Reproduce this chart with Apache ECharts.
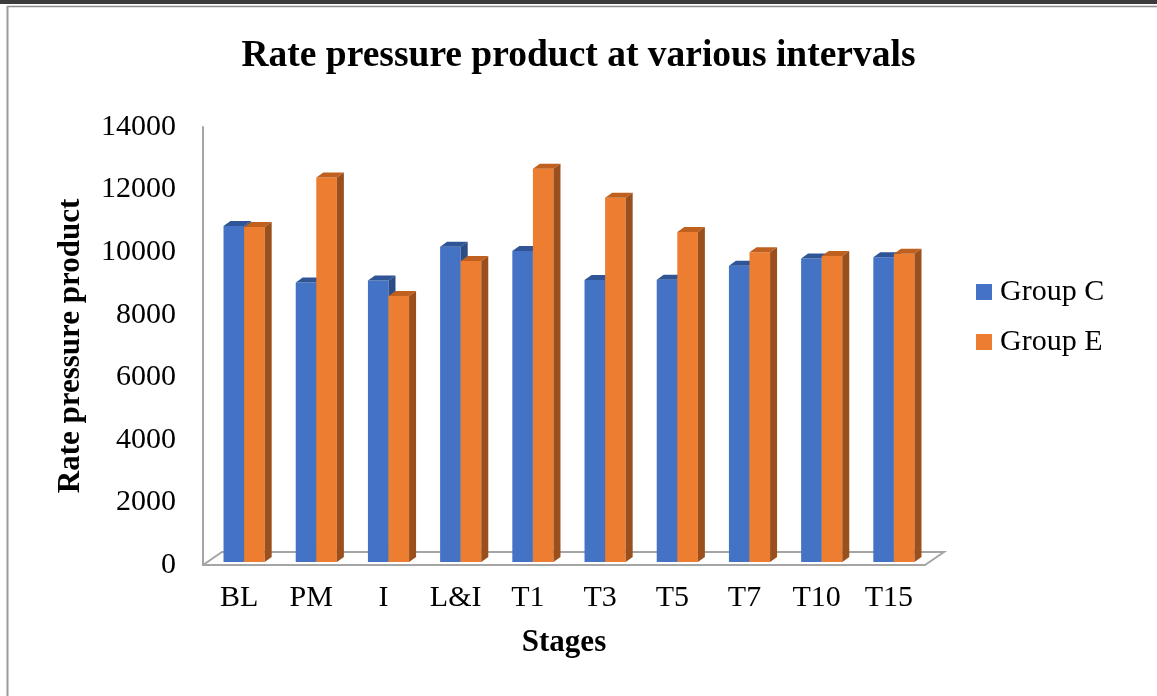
<!DOCTYPE html>
<html>
<head>
<meta charset="utf-8">
<script src="https://cdn.jsdelivr.net/npm/echarts@6/dist/echarts.min.js"></script>
<style>
  html, body { margin: 0; padding: 0; background: #fff; }
  #chart { width: 1157px; height: 696px; }
</style>
</head>
<body>
<div id="chart"></div>
<script>
const stages = ['BL', 'PM', 'I', 'L&I', 'T1', 'T3', 'T5', 'T7', 'T10', 'T15']
const groupC = [10740, 8930, 9000, 10080, 9940, 9010, 9020, 9470, 9700, 9740]
const groupE = [10710, 12290, 8500, 9620, 12570, 11640, 10550, 9900, 9780, 9850]
const yTicks = [0, 2000, 4000, 6000, 8000, 10000, 12000, 14000]

const serif = '"Liberation Serif", "Times New Roman", serif'

const colors = {
  C: { front: '#4472c4', top: '#2f5597', side: '#2b4c86' },
  E: { front: '#ed7d31', top: '#c0601f', side: '#9a4f1c' }
}

// fake 3d bar: front face + top + right side
const bar3d = (slot, col) => (params, api) => {
  const cat = api.value(0)
  const base = api.coord([cat, 0])
  const top = api.coord([cat, api.value(1)])
  const catW = api.size([1, 0])[0]
  const w = catW * 0.285
  const dx = 7, dy = 5
  const x0 = base[0] + 5 - w + slot * w
  const by = base[1] - 3
  const ty = top[1] - 3
  return {
    type: 'group',
    children: [
      { type: 'rect', shape: { x: x0, y: ty, width: w, height: by - ty }, style: { fill: col.front } },
      { type: 'polygon', shape: { points: [[x0, ty], [x0 + w, ty], [x0 + w + dx, ty - dy], [x0 + dx, ty - dy]] }, style: { fill: col.top } },
      { type: 'polygon', shape: { points: [[x0 + w, ty], [x0 + w + dx, ty - dy], [x0 + w + dx, by - dy], [x0 + w, by]] }, style: { fill: col.side } }
    ]
  }
}

const chart = echarts.init(document.getElementById('chart'))

const option = {
  backgroundColor: '#fff',
  animation: false,
  title: {
    text: 'Rate pressure product at various intervals',
    left: 'center',
    top: 32,
    textStyle: { fontFamily: serif, fontSize: 37.5, fontWeight: 'bold', color: '#000' }
  },
  legend: {
    orient: 'vertical',
    left: 971,
    top: 272,
    itemWidth: 16,
    itemHeight: 16,
    itemGap: 20,
    icon: 'rect',
    data: [
      { name: 'Group C', itemStyle: { color: colors.C.front } },
      { name: 'Group E', itemStyle: { color: colors.E.front } }
    ],
    textStyle: { fontFamily: serif, fontSize: 30, lineHeight: 30, color: '#000', padding: [0, 0, 0, 3] }
  },
  grid: { left: 203, right: 232, top: 127, bottom: 131 },
  xAxis: {
    type: 'category',
    data: stages,
    name: 'Stages',
    nameLocation: 'middle',
    nameGap: 62,
    nameTextStyle: { fontFamily: serif, fontSize: 31, fontWeight: 'bold', color: '#000' },
    axisLine: { show: true, lineStyle: { color: '#a5a5a5', width: 2 } },
    axisTick: { show: false },
    axisLabel: { fontFamily: serif, fontSize: 30, color: '#000', margin: 18 },
    splitLine: { show: false }
  },
  yAxis: {
    type: 'value',
    min: yTicks[0],
    max: yTicks[yTicks.length - 1],
    interval: yTicks[1] - yTicks[0],
    name: 'Rate pressure product',
    nameLocation: 'middle',
    nameGap: 117,
    nameTextStyle: { fontFamily: serif, fontSize: 31, fontWeight: 'bold', color: '#000' },
    axisLine: { show: true, lineStyle: { color: '#a5a5a5', width: 2 } },
    axisTick: { show: false },
    axisLabel: { fontFamily: serif, fontSize: 30, color: '#000', margin: 27, formatter: v => String(v) },
    splitLine: { show: false }
  },
  graphic: [
    { type: 'rect', shape: { x: 0, y: 0, width: 1157, height: 4 }, style: { fill: '#3c3c3c' }, silent: true },
    { type: 'line', shape: { x1: 7, y1: 6.5, x2: 1157, y2: 6.5 }, style: { stroke: '#8c8c8c', lineWidth: 1.5 }, silent: true },
    { type: 'line', shape: { x1: 7.5, y1: 6, x2: 7.5, y2: 696 }, style: { stroke: '#9a9a9a', lineWidth: 2 }, silent: true },
    // floor of the 3d plot
    {
      type: 'polyline',
      shape: { points: [[203, 565], [222, 552], [944, 552], [925, 565]] },
      style: { stroke: '#a5a5a5', lineWidth: 2, fill: null },
      silent: true
    }
  ],
  series: [
    {
      name: 'Group C',
      type: 'custom',
      itemStyle: { color: colors.C.front },
      renderItem: bar3d(0, colors.C),
      encode: { x: 0, y: 1 },
      data: groupC.map((v, i) => [i, v]),
      z: 3
    },
    {
      name: 'Group E',
      type: 'custom',
      itemStyle: { color: colors.E.front },
      renderItem: bar3d(1, colors.E),
      encode: { x: 0, y: 1 },
      data: groupE.map((v, i) => [i, v]),
      z: 4
    }
  ]
}

chart.setOption(option)
</script>
</body>
</html>
